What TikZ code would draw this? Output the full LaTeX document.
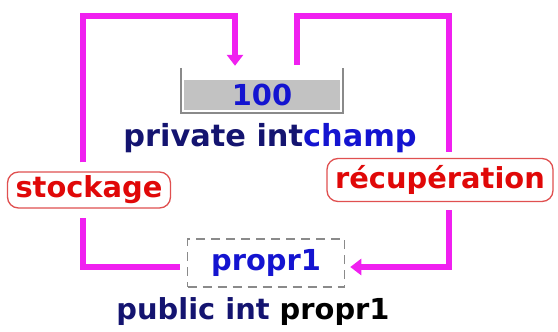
\documentclass[tikz,border=0pt]{standalone}
\usepackage{fontspec}
\setmainfont{DejaVu Sans}
\usetikzlibrary{arrows.meta,positioning}
\definecolor{pmag}{HTML}{F020F0}
\definecolor{pnavy}{HTML}{141470}
\definecolor{pblue}{HTML}{1414D0}
\definecolor{pred}{HTML}{E00808}
\definecolor{predl}{HTML}{E05050}
\definecolor{pgrayf}{HTML}{C2C2C2}
\definecolor{pgrayd}{HTML}{8A8A8A}
\tikzset{
  % bold sans text, as in the drawing
  big/.style    = {font=\bfseries\fontsize{29}{32}\selectfont},
  wire/.style   = {line width=6.5bp, pmag},
  tip/.style    = {-{Triangle[length=11bp,width=16bp]}},
  tag/.style    = {big, rectangle, rounded corners=11bp, draw=predl, line width=1.3bp,
                   fill=white, text=pred, inner xsep=5bp, inner ysep=0pt},
  cupbox/.style = {big, rectangle, fill=pgrayf, text=pblue, minimum width=156bp,
                   minimum height=30bp, inner sep=0pt},
  wall/.style   = {pgrayd, line width=2.5bp},
  dbox/.style   = {big, rectangle, draw=pgrayd, line width=1.5bp,
                   dash pattern=on 9bp off 6bp, text=pblue, minimum width=157bp,
                   minimum height=48bp, inner sep=0pt},
  lbl/.style    = {big, inner sep=0pt},
}
\begin{document}
\begin{tikzpicture}[x=1bp,y=1bp]
\useasboundingbox (0,0) rectangle (558,331);
% the field and its value
\node[cupbox] (cup) at (262,236) {100};
\draw[wall] ([xshift=-3bp,yshift=12bp]cup.north west) -- ([xshift=-3bp,yshift=-3bp]cup.south west)
  -- ([xshift=3bp,yshift=-3bp]cup.south east) -- ([xshift=3bp,yshift=12bp]cup.north east);
\node[lbl, font=\bfseries\fontsize{30.5}{33}\selectfont] (champ) at (270,193)
  {\textcolor{pnavy}{private int}\textcolor{pblue}{champ}};
% the property
\node[dbox] (propr) at (266,68) {propr1};
\node[lbl] (pub) at (253,19) {\textcolor{pnavy}{public int }\textcolor{black}{propr1}};
% labels on the two loops
\node[tag, minimum width=163bp, minimum height=36bp] (stock) at (89,141) {stockage};
\node[tag, minimum width=226bp, minimum height=43bp] (recup) at (440,151) {récupération};
\coordinate (tl) at (83,315);
\coordinate (tr) at (449,315);
\coordinate (cupin) at ([xshift=-27bp,yshift=14bp]cup.north);
\coordinate (cupout) at ([xshift=35bp,yshift=15bp]cup.north);
% stockage: propr1 -> champ
\draw[wire, shorten <=7bp, shorten >=9bp] ([yshift=-4bp]propr.west) -| (stock.south -| tl);
\draw[wire, tip, shorten <=9bp] (stock.north -| tl) -- (tl) -| (cupin);
% recuperation: champ -> propr1
\draw[wire, shorten >=6bp] (cupout) |- (tr) -- (recup.north -| tr);
\draw[wire, tip, shorten <=8bp, shorten >=5bp] (recup.south -| tr) |- ([yshift=-4bp]propr.east);
\end{tikzpicture}
\end{document}
